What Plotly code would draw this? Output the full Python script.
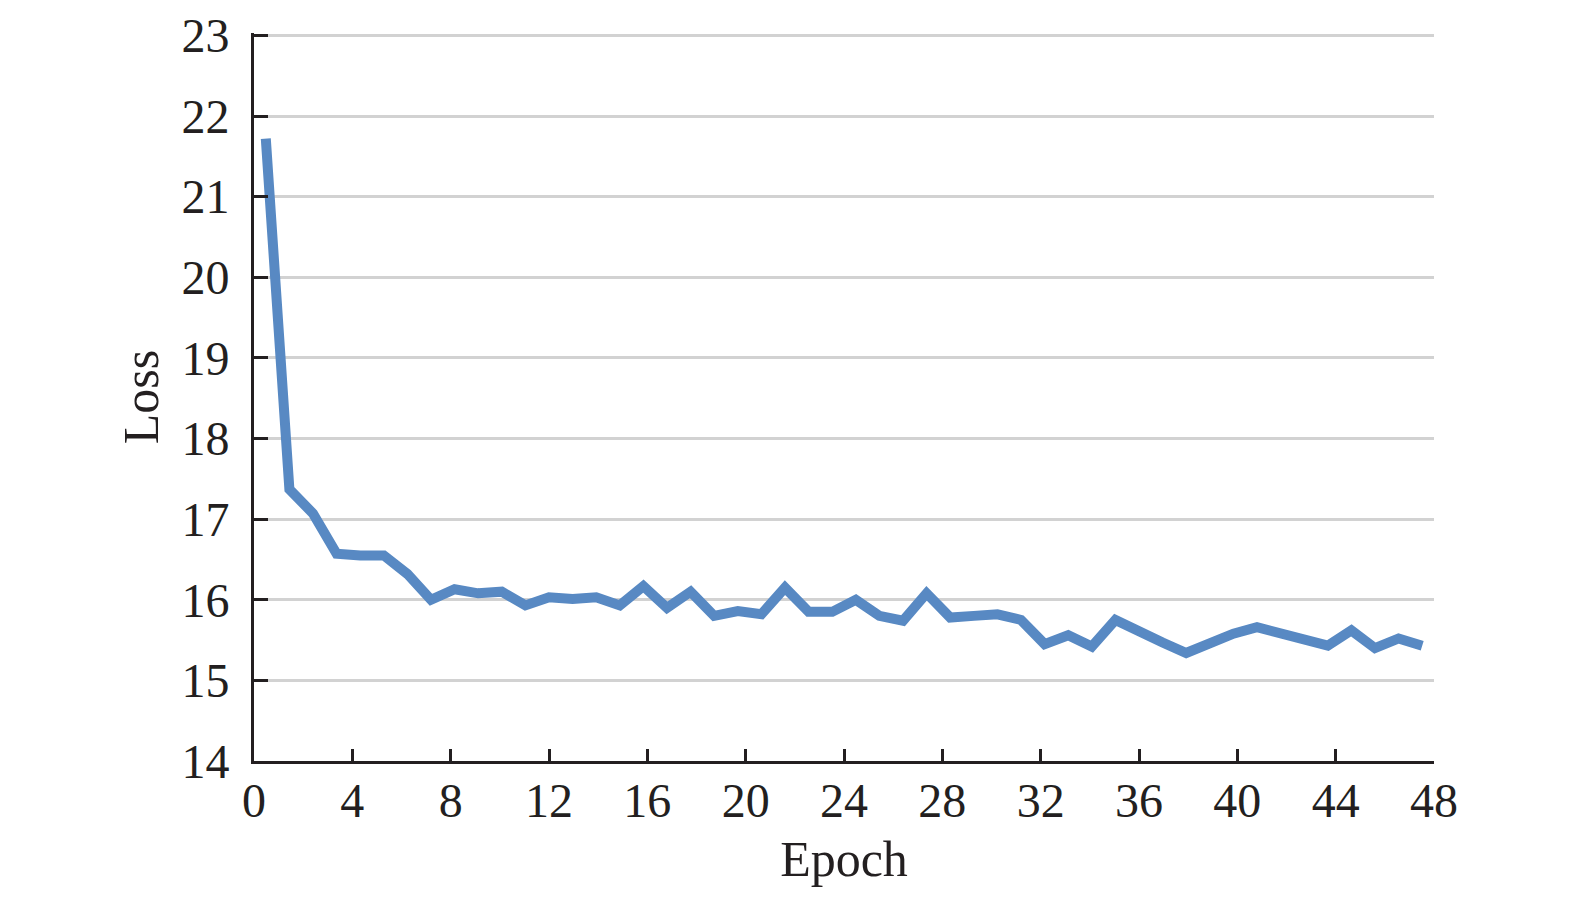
import plotly.graph_objects as go

# epoch positions (50 points spread over the 0-48 axis) and loss readings
epoch = [0.48, 1.44, 2.40, 3.36, 4.32, 5.28, 6.24, 7.20, 8.16, 9.12,
         10.08, 11.04, 12.00, 12.96, 13.92, 14.88, 15.84, 16.80, 17.76, 18.72,
         19.68, 20.64, 21.60, 22.56, 23.52, 24.48, 25.44, 26.40, 27.36, 28.32,
         29.28, 30.24, 31.20, 32.16, 33.12, 34.08, 35.04, 36.00, 36.96, 37.92,
         38.88, 39.84, 40.80, 41.76, 42.72, 43.68, 44.64, 45.60, 46.56, 47.52]
loss = [21.72, 17.37, 17.07, 16.57, 16.55, 16.55, 16.32, 16.00, 16.13, 16.08,
        16.10, 15.93, 16.03, 16.01, 16.03, 15.93, 16.17, 15.90, 16.10, 15.80,
        15.86, 15.82, 16.15, 15.85, 15.85, 16.00, 15.80, 15.74, 16.08, 15.78,
        15.80, 15.82, 15.75, 15.45, 15.56, 15.42, 15.75, 15.60, 15.47, 15.34,
        15.47, 15.58, 15.66, 15.58, 15.50, 15.43, 15.62, 15.40, 15.52, 15.43]

x_ticks = list(range(0, 49, 4))
y_ticks = list(range(14, 24))

ink = "#231f20"
font = dict(family="Liberation Serif, Times New Roman, serif", size=48, color=ink)

fig = go.Figure(
    data=[
        go.Scatter(
            x=epoch,
            y=loss,
            mode="lines",
            line=dict(color="#5889c3", width=10),
            hoverinfo="x+y",
        ),
        # invisible copy so the label-only axis gets drawn
        go.Scatter(
            x=epoch,
            y=loss,
            xaxis="x2",
            mode="lines",
            opacity=0,
            hoverinfo="skip",
        ),
    ],
    layout=go.Layout(
        width=1575,
        height=898,
        paper_bgcolor="white",
        plot_bgcolor="white",
        showlegend=False,
        # page body offsets the figure a bit, margins compensate
        margin=dict(l=246, r=149, t=25, b=145),
        font=font,
        xaxis=dict(
            range=[0, 48],
            tickvals=x_ticks,
            ticks="inside",
            ticklen=12,
            tickwidth=3,
            tickcolor=ink,
            showticklabels=False,
            showline=True,
            linecolor=ink,
            linewidth=3,
            showgrid=False,
            zeroline=False,
            automargin=False,
            title=dict(text="Epoch", font=dict(size=50), standoff=78),
        ),
        xaxis2=dict(
            overlaying="x",
            range=[0, 48],
            tickvals=x_ticks,
            anchor="free",
            position=0,
            side="bottom",
            ticks="",
            showline=False,
            showgrid=False,
            zeroline=False,
            automargin=False,
            ticklabelstandoff=7,
        ),
        yaxis=dict(
            # a hair above 23 so the top gridline is not clipped
            range=[14, 23.03],
            tickvals=y_ticks,
            ticks="inside",
            ticklen=14,
            tickwidth=3,
            tickcolor=ink,
            showline=True,
            linecolor=ink,
            linewidth=3,
            showgrid=True,
            gridcolor="#d2d2d2",
            gridwidth=3,
            zeroline=False,
            automargin=False,
            ticklabelstandoff=12,
            title=dict(text="Loss", font=dict(size=50), standoff=7),
        ),
    ),
)

fig.write_html("out.html")
